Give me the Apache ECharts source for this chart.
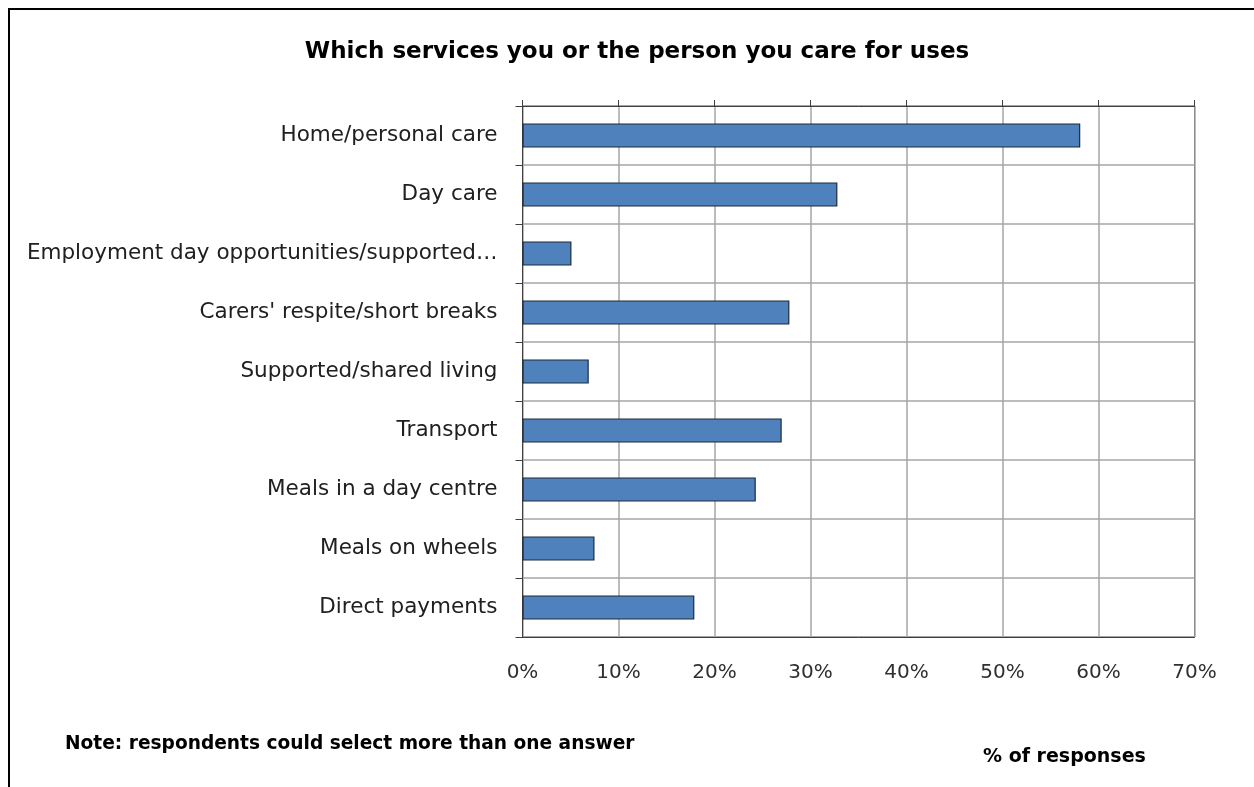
<!DOCTYPE html>
<html>
<head>
<meta charset="utf-8">
<script src="https://cdn.jsdelivr.net/npm/echarts@6/dist/echarts.min.js"></script>
<style>
html,body{margin:0;padding:0;background:#fff;}
#chart{width:1254px;height:787px;}
</style>
</head>
<body>
<div id="chart"></div>
<script>
const categories = [
  "Home/personal care",
  "Day care",
  "Employment day opportunities/supported…",
  "Carers' respite/short breaks",
  "Supported/shared living",
  "Transport",
  "Meals in a day centre",
  "Meals on wheels",
  "Direct payments"
];
const values = [58.1, 32.8, 5.1, 27.8, 6.9, 27.0, 24.3, 7.5, 17.9];
const xTicks = [0, 10, 20, 30, 40, 50, 60, 70];
const titleText = "Which services you or the person you care for uses";
const noteText = "Note: respondents could select more than one answer";
const axisTitle = "% of responses";

const FONT = "DejaVu Sans";
const chart = echarts.init(document.getElementById('chart'), null, {renderer: 'canvas'});
const option = {
  backgroundColor: '#fff',
  animation: false,
  title: {
    text: titleText,
    left: 632, top: 36, textAlign: 'center',
    textStyle: {fontFamily: FONT, fontWeight: 'bold', fontSize: 23, color: '#000'}
  },
  graphic: [
    {type: 'rect', shape: {x: 9, y: 9, width: 1300, height: 900}, style: {fill: 'none', stroke: '#000', lineWidth: 2}, silent: true},
    {type: 'text', left: 65, top: 735, style: {text: noteText, fontFamily: FONT, fontWeight: 'bold', fontSize: 18.6, fill: '#000'}},
    {type: 'text', left: 983, top: 748, style: {text: axisTitle, fontFamily: FONT, fontWeight: 'bold', fontSize: 19, fill: '#000'}}
  ],
  grid: {
    left: 522.5, right: 59.5, top: 106, bottom: 150,
    show: true, borderColor: '#404040', borderWidth: 1, backgroundColor: 'transparent'
  },
  xAxis: [{
    type: 'value', min: xTicks[0], max: xTicks[xTicks.length - 1], interval: 10,
    position: 'bottom',
    axisLine: {show: true, lineStyle: {color: '#404040', width: 1}},
    axisTick: {show: false},
    splitLine: {show: true, lineStyle: {color: '#a6a6a6', width: 1.5}},
    axisLabel: {formatter: v => v + '%', fontFamily: FONT, fontSize: 20, color: '#303030', margin: 26}
  }, {
    type: 'value', min: xTicks[0], max: xTicks[xTicks.length - 1], interval: 10,
    position: 'top',
    axisLine: {show: true, lineStyle: {color: '#404040', width: 1}},
    axisTick: {show: true, length: 6, lineStyle: {color: '#404040'}},
    splitLine: {show: false},
    axisLabel: {show: false}
  }],
  yAxis: {
    type: 'category', data: categories, inverse: true,
    axisLine: {show: true, lineStyle: {color: '#404040', width: 1}},
    axisTick: {show: true, length: 7, lineStyle: {color: '#404040'}},
    splitLine: {show: true, lineStyle: {color: '#a6a6a6', width: 1.5}},
    axisLabel: {fontFamily: FONT, fontSize: 21.5, color: '#202020', margin: 25}
  },
  series: [{
    type: 'bar', data: values, xAxisIndex: 0,
    barWidth: '41%',
    itemStyle: {color: '#4f81bd', borderColor: '#1e2a3a', borderWidth: 1.2}
  }]
};
chart.setOption(option);
</script>
</body>
</html>
